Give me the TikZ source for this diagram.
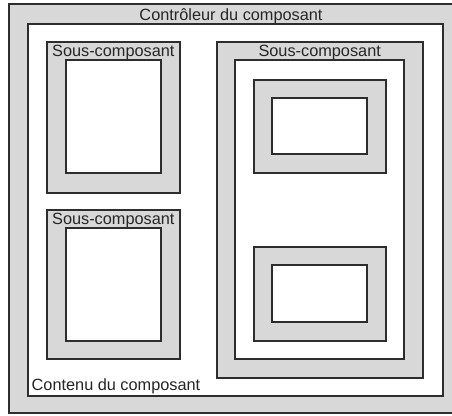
\documentclass[tikz,border=0pt]{standalone}
\usepackage{fontspec}
\setmainfont{Liberation Sans}
\definecolor{gfill}{RGB}{216,216,216}
\definecolor{gline}{RGB}{45,45,45}
\tikzset{
  graybox/.style={draw=gline, line width=1.8pt, fill=gfill},
  whitebox/.style={draw=gline, line width=1.8pt, fill=white},
  lbl/.style={inner sep=0pt, anchor=base, font=\fontsize{16.3}{19}\selectfont, text=black!85}
}
\begin{document}
\begin{tikzpicture}[x=1pt,y=-1pt]
\useasboundingbox (0,0) rectangle (452,415);
\clip (0,0) rectangle (452,415);
% component controller and content
\draw[graybox] (9,4) rectangle (470,413);
\draw[whitebox] (28,24) rectangle (443,396);
\node[lbl] (ctrl) at (231,20.5) {Contrôleur du composant};
\node[lbl, anchor=base west] (cont) at (31.5,390.5) {Contenu du composant};
% left sub-component 1
\draw[graybox] (46.7,42) rectangle (180,192.7);
\draw[whitebox] (66,60) rectangle (161,173);
\node[lbl] (s1) at (113.3,56.7) {Sous-composant};
% left sub-component 2
\draw[graybox] (46.7,210) rectangle (180,359);
\draw[whitebox] (66,228.3) rectangle (161,341);
\node[lbl] (s2) at (113.3,224.5) {Sous-composant};
% right sub-component
\draw[graybox] (216.7,42) rectangle (422.7,378.3);
\draw[whitebox] (235,60) rectangle (404.3,359.3);
\node[lbl] (s3) at (319.7,56.7) {Sous-composant};
% nested top
\draw[graybox] (253.7,80) rectangle (386,173);
\draw[whitebox] (272,97.7) rectangle (366.7,154.3);
% nested bottom
\draw[graybox] (253.7,247.3) rectangle (386,341);
\draw[whitebox] (272,265.3) rectangle (366.7,322.3);
\end{tikzpicture}
\end{document}
